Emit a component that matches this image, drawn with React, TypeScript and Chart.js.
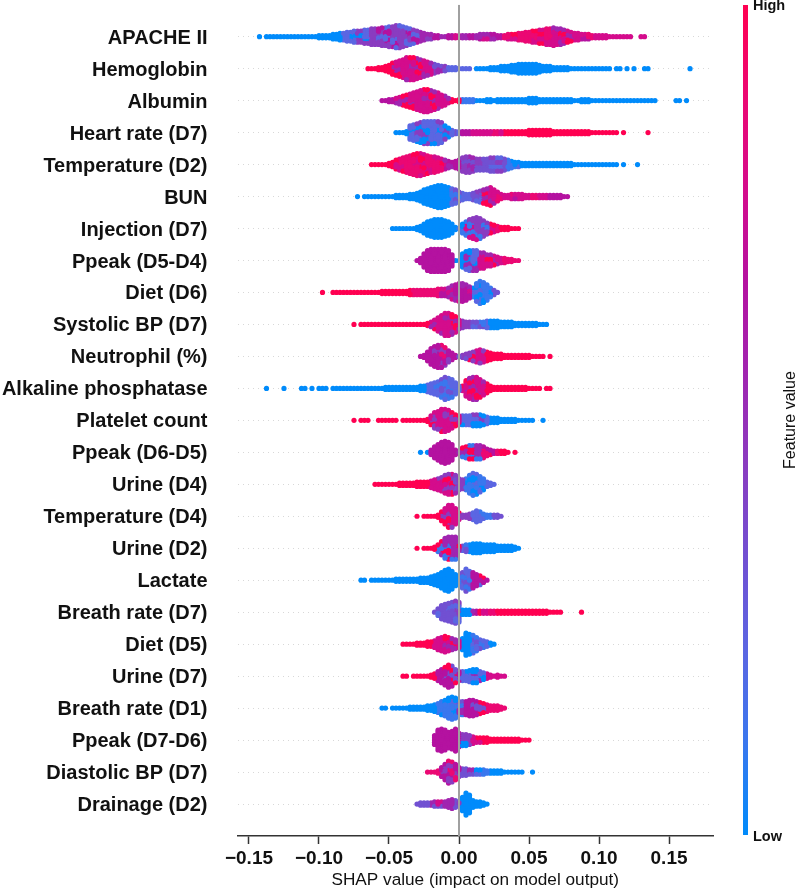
import React, { useEffect, useRef } from "react";
import { Chart, registerables } from "chart.js";

Chart.register(...registerables);

const FONT = '"Liberation Sans", Arial, sans-serif';

const featureNames = [
  "APACHE II", "Hemoglobin", "Albumin", "Heart rate (D7)", "Temperature (D2)", "BUN", "Injection (D7)",
  "Ppeak (D5-D4)", "Diet (D6)", "Systolic BP (D7)", "Neutrophil (%)", "Alkaline phosphatase", "Platelet count",
  "Ppeak (D6-D5)", "Urine (D4)", "Temperature (D4)", "Urine (D2)", "Lactate", "Breath rate (D7)", "Diet (D5)",
  "Urine (D7)", "Breath rate (D1)", "Ppeak (D7-D6)", "Diastolic BP (D7)", "Drainage (D2)",
];

const xTickValues = [-0.15, -0.1, -0.05, 0, 0.05, 0.1, 0.15];

// Feature-value colour scale, low (0) to high (9)
const featureColors = ["#008bfb", "#3a77ee", "#5b66e2", "#7150d2", "#8a3cc0", "#a025b0", "#b412a0", "#d40c8c", "#eb0873", "#ff0051"];

// Width of one SHAP histogram bin
const BIN = 0.0025;

// Each feature: first bin's SHAP value, dots per bin, tints as [up to SHAP value, colour index, colour spread]
const apacheStart = -0.1425;
const apacheCounts = [1,0,1,1,1,1,1,1,1,1,1,1,1,1,1,1,1, 2,2,2,2,3, 3,4,4,5,5, 6,6,6,7,7, 8,8,8,9,9, 10,10,11,11,10, 9,8,7,6,5, 4,3,3,2,2, 1, 1,2,2,2,2, 2,2,2,2,2,3,3,3,3,3,2,2, 2,3,3,3,4, 4,5,5,6,6, 7,7,8,8,9, 8,8,7,6,5, 4,4,3,3,3, 2,2,2,2,2, 1,1,1,1,1, 1,1,0, 0,1,1];
const apacheTints = [[-0.085,0,0],[-0.065,2,2],[-0.03,4,2],[-0.01,5,1],[0.03,6,1],[0.065,8,1],[0.085,7,2],[0.14,7,1]];

const hemoglobinStart = -0.065;
const hemoglobinCounts = [1,1,1,2,2,3, 4,6,7,8,9, 11,11,11,10,9, 8,7,6,5,4, 3,3,2,2,2, 1,1,1,1, 0, 1,1,1,1,2,2, 2,3,3,3,4, 4,5,5,5,5, 5,5,4,3,3, 3,2,2,2,2, 2,1,1,1,1,1, 1,1,1,1,1,1,1, 0, 1,1,0,1,0,1,0,0,1,1, 0,0,0,0,0,0,0,0,0,0,0, 1];
const hemoglobinTints = [[-0.05,9,0],[-0.02,7,2],[-0.01,4,1],[0.01,2,1],[0.2,0,0]];

const albuminStart = -0.055;
const albuminCounts = [1,1,2,2, 3,4,5,6,7, 8,9,10,11,11, 10,9,8,6,5, 3,2,1, 2,2,2,2,2,1,1,1, 2,2,1,2,2,2,2,2,2,2,2,2,3, 3,3,2,2, 2,2,2,2,2,2,2,2,1,1,2,2,2,1,1,1, 1,1,1,1,1,1,1,1,1,1,1,1, 1,1,1,1, 0,0,0,0, 0,1,1,0,1];
const albuminTints = [[-0.0475,6,1],[-0.0075,7,2],[0,9,0],[0.01,1,1],[0.2,0,0]];

const heartRateStart = -0.045;
const heartRateCounts = [1,1,1,2, 7,8,9,10,11, 11,11,11,11,10, 7,5,3,2, 2,2,2,2,2,2,2,2,2,2,2,2,2,2,2,2, 2,2,2,2,3,3,3,3,3,3,3, 2,2,2,2,2,2,2,2,2,2,2, 1,1,1,1,1,1,1,1, 0, 1, 0,0,0,0,0,0, 1];
const heartRateTints = [[-0.0375,0,0],[-0.005,2,2],[0,3,1],[0.03,7,1],[0.2,9,0]];

const tempD2Start = -0.0625;
const tempD2Counts = [1,1,1,1,1,2,3,5,6,7,8,9,10,11,11,10,9,8,8,7,6,5,4,3,4,5,7,8,8,7,6,6,6,6,7,7,7,7,6,5,4,3,3,2,2,2,2,2,2,2,2,2,2,2,2,2,2,2,1,1,1,1,1,1,1,1,1,1,1,1,1,0,1,0,0,0,1];
const tempD2Tints = [[-0.0475,9,0],[-0.0125,8,1],[0,6,1],[0.015,4,1],[0.0325,3,1],[0.045,1,1],[0.2,0,0]];

const bunStart = -0.0725;
const bunCounts = [1,0,1,1,1,1,1,1,1, 1,1,2,2,2, 2,3,3,4,5, 7,8,9,10,11, 11,10,9,8,7, 5,4,3,3,4, 5,6,7,8,9, 7,5,3,2,2, 3,3,3,3,2,2, 2,2,2,2,2,2,2,2,2,1,1];
const bunTints = [[-0.0075,0,0],[0.0075,2,1],[0.015,3,1],[0.025,7,2],[0.0375,8,1],[0.0625,7,1],[0.2,6,0]];

const injectionStart = -0.0475;
const injectionCounts = [1,1,1,1,1,1,1,2, 3,5,7,8,9, 9,9,8,7,5, 2,1,5, 7,9,10,11,10, 8,6,5,4,3, 2,2,2,1,1,1];
const injectionTints = [[-0.0025,0,0],[0.0025,1,1],[0.02,4,3],[0.0275,8,1],[0.2,9,0]];

const ppeak54Start = -0.03;
const ppeak54Counts = [1,3,7,10,11,11,11,11,11,10,6,1,1,7,9,10,10,10,8,8,6,6,5,4,3,3,2,2,1,1];
const ppeak54Tints = [[-0.005,6,0],[0.0025,0,0],[0.0125,2,3],[0.03,7,2],[0.2,8,1]];

const dietD6Start = -0.0975;
const dietD6Counts = [1,0,0,1,1, 1,1,1,1,1,1,1,1,1,1,1,1, 2,2,2,2,2,2,2,2,3,3,3, 3,3,3,3,3, 4,4,4,5,7, 8,9,9,8,6, 5,9,11,10,8,5,3,1];
const dietD6Tints = [[-0.035,9,0],[-0.015,8,0],[0.0075,6,1],[0.0225,1,1],[0.2,3,0]];

const sbpStart = -0.075;
const sbpCounts = [1,0,1,1,1,1, 1,1,1,1,1,1,1,1,1,1,1,1,1,1,1, 2,3,5,7,9, 11,11,10,8,5, 4,3,3,3,3, 3,3,4,4,4, 4,3,3,3,3, 2,2,2,2,2, 2,2,1,1,1];
const sbpTints = [[-0.0225,9,0],[0,7,2],[0.0075,4,2],[0.02,2,1],[0.2,0,0]];

const neutrophilStart = -0.0275;
const neutrophilCounts = [1,2,5,8,10,11,11,9,6,4,2,1,2,3,4,5,6,7,6,5,4,3,3,3,2,2,2,2,2,2,2,2,1,1,1,1,0,1];
const neutrophilTints = [[-0.0025,6,2],[0.005,3,1],[0.0175,7,3],[0.2,9,0]];

const alkalineStart = -0.1375;
const alkalineCounts = [1,0,0,0,0,1,0,0,0,0,1,1,0,1,0,1,1,1,0, 1,1,1,1,1,1,1,1,1,1,1,1,1,1,1, 2,2,2,2,2,2,2,2,2,2, 3,3,4,5,6, 7,9,11,10,9, 6,3, 3,8,10,11,11,9,7,5,3,2, 2,2,2,2,2,2,2,2,2,1,1,1,1, 0,1,1];
const alkalineTints = [[-0.025,0,0],[0,2,1],[0.0175,7,2],[0.2,9,0]];

const plateletStart = -0.075;
const plateletCounts = [1,0,1,1,1,0,0,1,1,1,1,1,1,0, 1,1,1,1,1,1,1, 2,5,8,9,11,11,10,8,6, 5,5,5,5,6,6,6,5,4,3,3,3,2,2,2,2,2,1,1,1,1,1,0,0,1];
const plateletTints = [[-0.0225,9,0],[0,7,3],[0.02,2,2],[0.2,0,0]];

const ppeak65Start = -0.0275;
const ppeak65Counts = [1,0,1,3,6,8,10,11,10,8,3,1,5,6,7,7,7,7,6,4,3,2,2,2,2,1,0,1];
const ppeak65Tints = [[-0.0225,0,0],[-0.0025,6,0],[0.015,5,4],[0.0275,8,2],[0.2,9,0]];

const urineD4Start = -0.06;
const urineD4Counts = [1,1,1,1,1,1,1,2,2,2,2,2,3,3,3,3,4,5,6,7,9,10,10,9,6,5,6,9,11,10,8,6,3,2,1];
const urineD4Tints = [[-0.0225,9,0],[-0.005,7,3],[0.0025,4,1],[0.0175,1,1],[0.2,2,0]];

const tempD4Start = -0.03;
const tempD4Counts = [1,0,1,1,1,1,2,5,8,11,11,8,4,2,2,3,4,6,5,3,2,2,2,2,1];
const tempD4Tints = [[-0.0175,9,0],[0,7,3],[0.0075,4,0],[0.0225,2,1],[0.2,3,0]];

const urineD2Start = -0.03;
const urineD2Counts = [1,0,1,1,1,2,4,7,10,11,11,11,3,3,4,4,5,5,5,4,4,4,4,3,3,3,3,3,2,1];
const urineD2Tints = [[-0.0175,9,0],[0,5,4],[0.005,2,1],[0.2,0,0]];

const lactateStart = -0.07;
const lactateCounts = [1,1,0,1, 1,1,1,1,1,1,2,2,2,2,2,2, 2,3,3,3,4, 5,6,8,10,11, 9,6,4,8,11, 9,8,6,5,3,1];
const lactateTints = [[-0.0025,0,0],[0.0075,2,1],[0.2,6,4]];

const breathD7Start = -0.0175;
const breathD7Counts = [1,4,7,8,9,10,11,10, 3,3,3,2,2,2,2,2,2,2,2,2, 2,2,2,2,2,2,2,2,2,2,2,2,2, 1,1,1,1, 0,0,0,0,0, 1];
const breathD7Tints = [[0,3,1],[0.0075,0,0],[0.0125,5,1],[0.025,8,1],[0.2,9,0]];

const dietD5Start = -0.04;
const dietD5Counts = [1,1,1,1,2,2,2,3,3,4,6,7,8,7,6,5,4,6,11,10,9,7,5,4,3,2,1];
const dietD5Tints = [[-0.02,9,0],[0,7,2],[0.0075,0,1],[0.02,2,1],[0.2,0,0]];

const urineD7Start = -0.04;
const urineD7Counts = [1,1,0,1,1,1,1,1,2,3,5,7,9,11,10,7,5,5,5,6,7,7,5,4,3,2,1,2,1,1];
const urineD7Tints = [[-0.0175,9,0],[0,6,3],[0.0175,2,3],[0.2,7,2]];

const breathD1Start = -0.055;
const breathD1Counts = [1,1,0,1,1,1,1,1,2,2,2,2,2,3,3,4,5,7,8,10,11,10,7,7,7,8,8,7,6,5,4,3,3,3,2,1];
const breathD1Tints = [[-0.0175,0,0],[-0.0025,1,1],[0.0025,3,2],[0.0175,6,3],[0.2,8,0]];

const ppeak76Start = -0.0175;
const ppeak76Counts = [5,10,11,10,8,9,11,7,6,6,5,4,3,3,3,3,2,2,2,2,2,2,2,2,2,1,1,1];
const ppeak76Tints = [[0,6,0],[0.0075,4,4],[0.015,7,2],[0.05,9,0],[0.2,8,0]];

const diastolicStart = -0.0225;
const diastolicCounts = [1,1,1,2,5,8,11,10,8,5,4,4,3,3,3,3,3,2,2,2,2,2,1,1,1,1,1,1,0,0,1];
const diastolicTints = [[-0.015,8,0],[0,6,2],[0.01,3,2],[0.0225,1,1],[0.2,0,0]];

const drainageStart = -0.03;
const drainageCounts = [1,2,2,2,2,3,3,3,3,4,5,4,2,7,11,9,4,3,3,2,1];
const drainageTints = [[-0.0225,3,0],[-0.005,5,2],[0,3,1],[0.2,0,0]];

const rowStarts = [apacheStart, hemoglobinStart, albuminStart, heartRateStart, tempD2Start, bunStart, injectionStart, ppeak54Start, dietD6Start, sbpStart, neutrophilStart, alkalineStart, plateletStart, ppeak65Start, urineD4Start, tempD4Start, urineD2Start, lactateStart, breathD7Start, dietD5Start, urineD7Start, breathD1Start, ppeak76Start, diastolicStart, drainageStart];
const rowCounts = [apacheCounts, hemoglobinCounts, albuminCounts, heartRateCounts, tempD2Counts, bunCounts, injectionCounts, ppeak54Counts, dietD6Counts, sbpCounts, neutrophilCounts, alkalineCounts, plateletCounts, ppeak65Counts, urineD4Counts, tempD4Counts, urineD2Counts, lactateCounts, breathD7Counts, dietD5Counts, urineD7Counts, breathD1Counts, ppeak76Counts, diastolicCounts, drainageCounts];
const rowTints = [apacheTints, hemoglobinTints, albuminTints, heartRateTints, tempD2Tints, bunTints, injectionTints, ppeak54Tints, dietD6Tints, sbpTints, neutrophilTints, alkalineTints, plateletTints, ppeak65Tints, urineD4Tints, tempD4Tints, urineD2Tints, lactateTints, breathD7Tints, dietD5Tints, urineD7Tints, breathD1Tints, ppeak76Tints, diastolicTints, drainageTints];

const STACK = 0.069; // vertical gap between stacked dots, in rows
const mottlePattern = [0, 1, 0, -1, 0, 0, 1, -1, 0, -1, 0];

function rowDataset(row: number) {
  const dots: { x: number; y: number; c: string }[] = [];
  rowCounts[row].forEach((n, b) => {
    const x = rowStarts[row] + b * BIN;
    const tint = rowTints[row].find((t) => x <= t[0] + 1e-9) || rowTints[row][rowTints[row].length - 1];
    for (let i = 0; i < n; i++) {
      const m = n > 1 ? mottlePattern[((i >> 1) * 3 + (b >> 1) * 2) % mottlePattern.length] : 0;
      const c = Math.max(0, Math.min(9, tint[1] + m * tint[2]));
      dots.push({ x, y: row + (i - (n - 1) / 2) * STACK, c: featureColors[c] });
    }
  });
  // overlapping swarm: paint in interleaved order so colours mix
  const ordered: typeof dots = [];
  for (let o = 0; o < 7; o++) for (let j = o; j < dots.length; j += 7) ordered.push(dots[j]);
  return {
    type: "scatter" as const,
    label: featureNames[row],
    data: ordered.map((d) => ({ x: d.x, y: d.y })),
    backgroundColor: ordered.map((d) => d.c),
    pointRadius: 2.6,
    pointBorderWidth: 0,
    order: 1,
  };
}

const colorBar = {
  id: "colorBar",
  afterDraw(chart: any) {
    const { ctx } = chart;
    const top = 5, bottom = 835, x = 743, w = 5;
    ctx.save();
    const g = ctx.createLinearGradient(0, bottom, 0, top);
    featureColors.forEach((c, i) => g.addColorStop(i / (featureColors.length - 1), c));
    ctx.fillStyle = g;
    ctx.fillRect(x, top, w, bottom - top);
    ctx.fillStyle = "#111";
    ctx.textBaseline = "middle";
    ctx.textAlign = "left";
    ctx.font = `bold 14.5px ${FONT}`;
    ctx.fillText("High", 753, 6);
    ctx.fillText("Low", 753, 837);
    ctx.font = `16px ${FONT}`;
    ctx.translate(791, 420);
    ctx.rotate(-Math.PI / 2);
    ctx.textAlign = "center";
    ctx.fillText("Feature value", 0, 0);
    ctx.restore();
  },
};

export default function App() {
  const ref = useRef<HTMLCanvasElement>(null);
  useEffect(() => {
    const chart = new Chart(ref.current as HTMLCanvasElement, {
      type: "scatter",
      data: {
        datasets: [
          {
            type: "scatter",
            label: "zero",
            data: [{ x: 0, y: -1 }, { x: 0, y: 25 }],
            showLine: true,
            borderColor: "#a0a0a0",
            borderWidth: 2,
            pointRadius: 0,
            order: 0,
          },
          ...featureNames.map((_, i) => rowDataset(i)),
        ] as any,
      },
      plugins: [colorBar],
      options: {
        animation: false,
        responsive: false,
        layout: { padding: { left: 0, right: 84, top: 4.7, bottom: 0 } },
        plugins: { legend: { display: false }, tooltip: { enabled: false } },
        scales: {
          x: {
            type: "linear",
            min: -0.1582,
            max: 0.1814,
            afterBuildTicks: (axis: any) => {
              axis.ticks = xTickValues.map((value) => ({ value }));
            },
            afterFit: (axis: any) => {
              axis.height = 53;
              axis.paddingLeft = 0;
              axis.paddingRight = 0;
            },
            grid: { drawOnChartArea: false, drawTicks: true, tickLength: 8, tickColor: "#333333", tickWidth: 1.5 },
            border: { display: true, color: "#333333", width: 1.5 },
            ticks: {
              padding: 3,
              color: "#111111",
              maxRotation: 0,
              font: { family: FONT, size: 19, weight: "bold" },
              callback: (v: any) => (Number(v) < 0 ? "\u2212" : "") + Math.abs(Number(v)).toFixed(2),
            },
            title: {
              display: true,
              text: "SHAP value (impact on model output)",
              color: "#111111",
              font: { family: FONT, size: 17.2, weight: "normal" },
              padding: { top: 0, bottom: -2 },
            },
          },
          y: {
            type: "linear",
            reverse: true,
            min: -1,
            max: 25,
            afterBuildTicks: (axis: any) => {
              axis.ticks = featureNames.map((_, value) => ({ value }));
            },
            afterFit: (axis: any) => {
              axis.width = 237.5;
              axis.paddingTop = 0;
              axis.paddingBottom = 0;
            },
            grid: { color: "#d8d8d8", lineWidth: 1, drawTicks: false },
            border: { display: false, dash: [1, 4] },
            ticks: {
              padding: 30,
              labelOffset: 1.5,
              color: "#111111",
              autoSkip: false,
              font: { family: FONT, size: 20, weight: "bold" },
              callback: (v: any) => featureNames[Number(v)] ?? "",
            },
          },
        },
      },
    } as any);
    return () => chart.destroy();
  }, []);
  return <canvas ref={ref} width={797} height={889} style={{ position: "absolute", left: 0, top: 0, display: "block" }} />;
}
